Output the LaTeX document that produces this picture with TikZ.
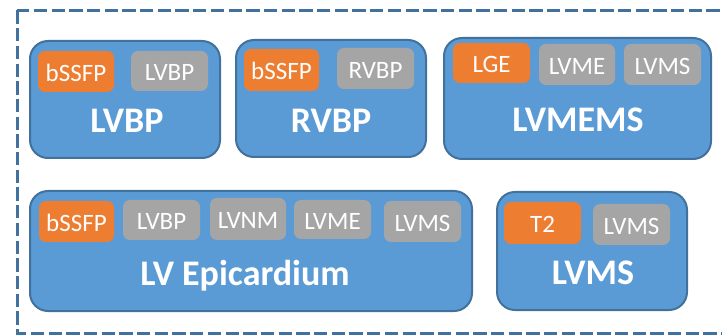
\documentclass[tikz,border=0pt]{standalone}
\usepackage{fontspec}
\setmainfont{Carlito}
\definecolor{frameblue}{HTML}{41719C}
\definecolor{boxfill}{HTML}{5B9BD5}
\definecolor{tagorange}{HTML}{ED7D31}
\definecolor{taggray}{HTML}{A5A5A5}
\begin{document}
\begin{tikzpicture}[x=1pt,y=-1pt,
  outerbox/.style={draw=frameblue, line width=2pt, fill=boxfill, rounded corners=18pt, inner sep=0pt, outer sep=0pt},
  tag/.style={rounded corners=7pt, inner sep=0pt, outer sep=0pt, text=white,
    font=\fontsize{25}{25}\selectfont, text height=20pt, text depth=0pt},
  orangetag/.style={tag, fill=tagorange},
  graytag/.style={tag, fill=taggray},
  biglabel/.style={text=white, font=\bfseries\fontsize{36}{36}\selectfont, anchor=base, inner sep=0pt},
  framedash/.style={draw=frameblue, line width=3pt, dash pattern=on 13.3pt off 4.4pt}
]
\useasboundingbox (0,0) rectangle (722,336);
\draw[framedash] (17,10.5) rectangle (745,333);

% Row 1
\node[outerbox, minimum width=190pt, minimum height=117pt] (lvbp) at (125,99.5) {};
\node[orangetag, minimum width=76pt, minimum height=41pt] (lvbpA) at (76,71.5) {bSSFP};
\node[graytag, minimum width=77pt, minimum height=40pt] (lvbpB) at (169.5,71) {LVBP};
\node[biglabel] (lvbpL) at (127,133) {LVBP};

\node[outerbox, minimum width=190pt, minimum height=117pt] (rvbp) at (331,98.5) {};
\node[orangetag, minimum width=75pt, minimum height=42pt] (rvbpA) at (281.5,70) {bSSFP};
\node[graytag, minimum width=77pt, minimum height=41pt] (rvbpB) at (375.5,68.5) {RVBP};
\node[biglabel] (rvbpL) at (331,133) {RVBP};

\node[outerbox, minimum width=267pt, minimum height=121pt] (mems) at (577.5,98.5) {};
\node[orangetag, minimum width=77pt, minimum height=40pt] (memsA) at (491.5,63) {LGE};
\node[graytag, minimum width=76pt, minimum height=41pt] (memsB) at (577,64.5) {LVME};
\node[graytag, minimum width=77pt, minimum height=41pt] (memsC) at (662.5,64.5) {LVMS};
\node[biglabel] (memsL) at (578,132) {LVMEMS};

% Row 2
\node[outerbox, minimum width=442pt, minimum height=120pt] (epi) at (251,251) {};
\node[orangetag, minimum width=75pt, minimum height=41pt] (epiA) at (76.5,221.5) {bSSFP};
\node[graytag, minimum width=77pt, minimum height=40pt] (epiB) at (161.5,220) {LVBP};
\node[graytag, minimum width=76pt, minimum height=42pt] (epiC) at (248,219) {LVNM};
\node[graytag, minimum width=77pt, minimum height=39pt] (epiD) at (332.5,219.5) {LVME};
\node[graytag, minimum width=77pt, minimum height=41pt] (epiE) at (422.5,221.5) {LVMS};
\node[biglabel] (epiL) at (245,286) {LV Epicardium};

\node[outerbox, minimum width=190pt, minimum height=118pt] (lvms) at (592,251) {};
\node[orangetag, minimum width=77pt, minimum height=42pt] (lvmsA) at (542.5,223) {T2};
\node[graytag, minimum width=77pt, minimum height=41pt] (lvmsB) at (631.5,224.5) {LVMS};
\node[biglabel] (lvmsL) at (593,285) {LVMS};
\end{tikzpicture}
\end{document}
